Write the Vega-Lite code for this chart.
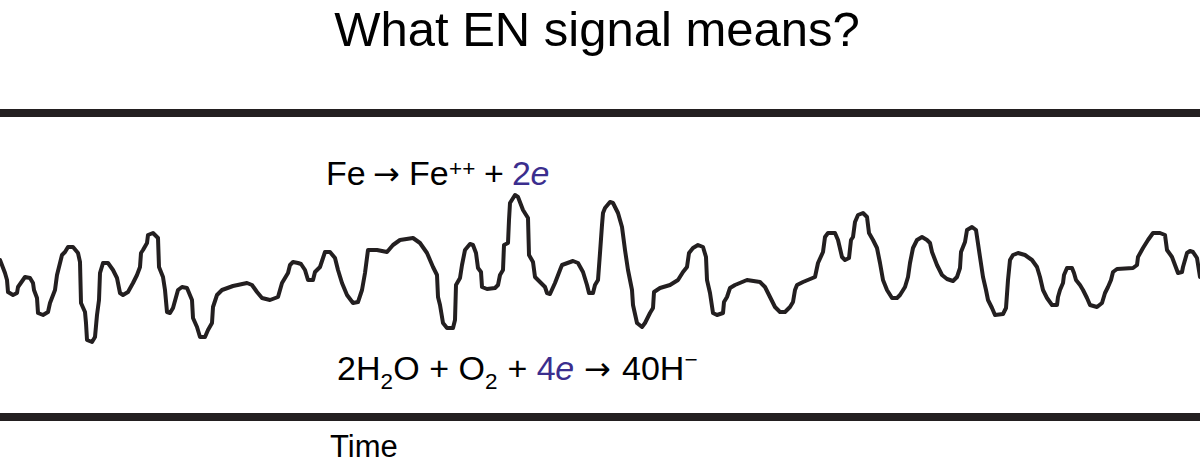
{
  "$schema": "https://vega.github.io/schema/vega-lite/v6.json",
  "width": 1200,
  "height": 467,
  "padding": 0,
  "autosize": {"type": "none"},
  "background": "white",
  "config": {"view": {"stroke": null}},
  "datasets": {
    "signal": [
      {"x":0,"y":260},{"x":5,"y":273},{"x":7,"y":280},{"x":8,"y":292},{"x":13,"y":295},{"x":17,"y":293},{"x":18,"y":287},{"x":25,"y":277},{"x":30,"y":278},{"x":33,"y":283},{"x":34,"y":290},{"x":37,"y":298},{"x":38,"y":313},{"x":43,"y":315},{"x":48,"y":312},{"x":50,"y":303},{"x":55,"y":290},{"x":57,"y":275},{"x":62,"y":255},{"x":65,"y":252},{"x":68,"y":247},{"x":73,"y":247},{"x":78,"y":253},{"x":80,"y":262},{"x":81,"y":303},{"x":85,"y":312},{"x":86,"y":323},{"x":87,"y":340},{"x":92,"y":342},{"x":95,"y":337},{"x":97,"y":315},{"x":99,"y":300},{"x":100,"y":273},{"x":103,"y":263},{"x":108,"y":263},{"x":113,"y":270},{"x":117,"y":278},{"x":120,"y":293},{"x":123,"y":295},{"x":128,"y":292},{"x":133,"y":283},{"x":137,"y":275},{"x":140,"y":267},{"x":141,"y":253},{"x":143,"y":250},{"x":147,"y":243},{"x":148,"y":235},{"x":153,"y":233},{"x":158,"y":238},{"x":159,"y":267},{"x":163,"y":277},{"x":165,"y":290},{"x":167,"y":312},{"x":170,"y":313},{"x":173,"y":308},{"x":178,"y":290},{"x":182,"y":287},{"x":187,"y":288},{"x":192,"y":300},{"x":193,"y":318},{"x":197,"y":327},{"x":200,"y":337},{"x":205,"y":337},{"x":208,"y":330},{"x":212,"y":323},{"x":213,"y":307},{"x":217,"y":295},{"x":222,"y":290},{"x":233,"y":286},{"x":247,"y":283},{"x":252,"y":285},{"x":257,"y":292},{"x":262,"y":298},{"x":270,"y":300},{"x":278,"y":297},{"x":282,"y":283},{"x":285,"y":278},{"x":288,"y":273},{"x":290,"y":265},{"x":293,"y":262},{"x":298,"y":263},{"x":301,"y":264},{"x":305,"y":270},{"x":308,"y":280},{"x":313,"y":280},{"x":315,"y":272},{"x":320,"y":267},{"x":323,"y":258},{"x":325,"y":252},{"x":330,"y":252},{"x":335,"y":258},{"x":338,"y":270},{"x":342,"y":283},{"x":347,"y":295},{"x":353,"y":303},{"x":358,"y":302},{"x":362,"y":290},{"x":365,"y":273},{"x":368,"y":250},{"x":377,"y":250},{"x":387,"y":252},{"x":393,"y":245},{"x":400,"y":240},{"x":413,"y":238},{"x":420,"y":243},{"x":427,"y":253},{"x":433,"y":267},{"x":437,"y":275},{"x":438,"y":297},{"x":440,"y":305},{"x":443,"y":323},{"x":447,"y":328},{"x":453,"y":328},{"x":455,"y":320},{"x":456,"y":285},{"x":460,"y":278},{"x":462,"y":265},{"x":465,"y":250},{"x":470,"y":244},{"x":473,"y":245},{"x":476,"y":253},{"x":478,"y":268},{"x":481,"y":272},{"x":482,"y":287},{"x":487,"y":289},{"x":495,"y":288},{"x":498,"y":285},{"x":500,"y":275},{"x":503,"y":270},{"x":504,"y":245},{"x":508,"y":243},{"x":509,"y":220},{"x":510,"y":203},{"x":515,"y":195},{"x":518,"y":197},{"x":523,"y":210},{"x":528,"y":218},{"x":529,"y":255},{"x":533,"y":262},{"x":535,"y":277},{"x":540,"y":282},{"x":545,"y":287},{"x":547,"y":293},{"x":550,"y":294},{"x":555,"y":283},{"x":560,"y":270},{"x":562,"y":265},{"x":573,"y":261},{"x":578,"y":263},{"x":583,"y":272},{"x":587,"y":285},{"x":589,"y":293},{"x":593,"y":293},{"x":595,"y":285},{"x":598,"y":280},{"x":600,"y":253},{"x":602,"y":225},{"x":603,"y":213},{"x":605,"y":208},{"x":610,"y":202},{"x":613,"y":203},{"x":618,"y":213},{"x":622,"y":227},{"x":625,"y":250},{"x":628,"y":270},{"x":632,"y":290},{"x":633,"y":305},{"x":637,"y":323},{"x":642,"y":327},{"x":645,"y":323},{"x":650,"y":313},{"x":653,"y":308},{"x":654,"y":292},{"x":660,"y":288},{"x":670,"y":285},{"x":678,"y":280},{"x":683,"y":272},{"x":687,"y":267},{"x":689,"y":253},{"x":693,"y":248},{"x":698,"y":245},{"x":703,"y":247},{"x":706,"y":257},{"x":707,"y":280},{"x":710,"y":293},{"x":713,"y":313},{"x":717,"y":315},{"x":723,"y":313},{"x":724,"y":302},{"x":727,"y":297},{"x":730,"y":288},{"x":735,"y":285},{"x":747,"y":280},{"x":760,"y":282},{"x":765,"y":287},{"x":770,"y":297},{"x":775,"y":307},{"x":780,"y":312},{"x":785,"y":312},{"x":790,"y":307},{"x":793,"y":302},{"x":795,"y":290},{"x":797,"y":285},{"x":803,"y":282},{"x":815,"y":277},{"x":818,"y":263},{"x":823,"y":252},{"x":825,"y":237},{"x":828,"y":233},{"x":835,"y":233},{"x":838,"y":240},{"x":842,"y":257},{"x":845,"y":260},{"x":849,"y":258},{"x":851,"y":240},{"x":853,"y":237},{"x":855,"y":222},{"x":858,"y":215},{"x":863,"y":213},{"x":867,"y":217},{"x":869,"y":233},{"x":873,"y":240},{"x":877,"y":248},{"x":880,"y":263},{"x":883,"y":280},{"x":887,"y":290},{"x":892,"y":298},{"x":897,"y":298},{"x":900,"y":295},{"x":905,"y":287},{"x":908,"y":277},{"x":910,"y":263},{"x":913,"y":248},{"x":917,"y":240},{"x":922,"y":237},{"x":927,"y":240},{"x":930,"y":243},{"x":932,"y":252},{"x":937,"y":265},{"x":942,"y":275},{"x":947,"y":279},{"x":953,"y":281},{"x":957,"y":277},{"x":960,"y":268},{"x":961,"y":252},{"x":963,"y":247},{"x":965,"y":242},{"x":967,"y":230},{"x":972,"y":227},{"x":976,"y":230},{"x":980,"y":257},{"x":983,"y":277},{"x":986,"y":290},{"x":988,"y":300},{"x":992,"y":308},{"x":995,"y":315},{"x":1003,"y":314},{"x":1006,"y":308},{"x":1008,"y":280},{"x":1010,"y":260},{"x":1013,"y":255},{"x":1018,"y":253},{"x":1025,"y":255},{"x":1032,"y":260},{"x":1037,"y":267},{"x":1040,"y":277},{"x":1043,"y":290},{"x":1047,"y":298},{"x":1052,"y":305},{"x":1057,"y":305},{"x":1058,"y":297},{"x":1060,"y":290},{"x":1063,"y":283},{"x":1064,"y":275},{"x":1067,"y":268},{"x":1072,"y":268},{"x":1074,"y":273},{"x":1076,"y":280},{"x":1080,"y":285},{"x":1083,"y":290},{"x":1087,"y":298},{"x":1090,"y":305},{"x":1097,"y":307},{"x":1102,"y":303},{"x":1105,"y":293},{"x":1108,"y":287},{"x":1111,"y":280},{"x":1113,"y":272},{"x":1117,"y":269},{"x":1133,"y":268},{"x":1137,"y":265},{"x":1138,"y":257},{"x":1143,"y":248},{"x":1148,"y":240},{"x":1153,"y":233},{"x":1160,"y":233},{"x":1165,"y":235},{"x":1167,"y":250},{"x":1172,"y":257},{"x":1175,"y":265},{"x":1178,"y":273},{"x":1182,"y":272},{"x":1183,"y":267},{"x":1187,"y":253},{"x":1190,"y":251},{"x":1193,"y":252},{"x":1197,"y":258},{"x":1200,"y":277}
    ],
    "bounds": [{"y": 113}, {"y": 417}],
    "title": [{"x": 597, "y": 46, "t": "What EN signal means?"}],
    "time": [{"x": 330, "y": 457, "t": "Time"}],
    "main": [
      {"x": 326, "y": 185, "t": "Fe"},
      {"x": 409, "y": 185, "t": "Fe"},
      {"x": 484, "y": 185, "t": "+"},
      {"x": 337, "y": 380, "t": "2H"},
      {"x": 393.3, "y": 380, "t": "O"},
      {"x": 429.3, "y": 380, "t": "+"},
      {"x": 458.6, "y": 380, "t": "O"},
      {"x": 507.4, "y": 380, "t": "+"},
      {"x": 622, "y": 380, "t": "40H"}
    ],
    "arrows": [
      {"x": 373, "y": 185, "t": "→"},
      {"x": 584, "y": 380, "t": "→"}
    ],
    "small": [
      {"x": 449, "y": 176, "t": "++"},
      {"x": 380.5, "y": 389, "t": "2"},
      {"x": 485.1, "y": 389, "t": "2"},
      {"x": 684.4, "y": 367, "t": "−"}
    ],
    "blue": [
      {"x": 512, "y": 185, "t": "2"},
      {"x": 536.7, "y": 380, "t": "4"}
    ],
    "blueItalic": [
      {"x": 530.5, "y": 185, "t": "e"},
      {"x": 555.2, "y": 380, "t": "e"}
    ]
  },
  "layer": [
    {
      "data": {"name": "bounds"},
      "mark": {"type": "rule", "strokeWidth": 8, "color": "#231f20"},
      "encoding": {
        "y": {"field": "y", "type": "quantitative", "scale": {"domain": [0, 467], "reverse": true, "nice": false, "zero": false}, "axis": null}
      }
    },
    {
      "data": {"name": "signal"},
      "mark": {"type": "line", "strokeWidth": 4, "color": "#231f20", "strokeJoin": "round", "strokeCap": "round"},
      "encoding": {
        "x": {"field": "x", "type": "quantitative", "scale": {"domain": [0, 1200], "nice": false, "zero": false}, "axis": null},
        "y": {"field": "y", "type": "quantitative", "axis": null}
      }
    },
    {
      "data": {"name": "title"},
      "mark": {"type": "text", "font": "Liberation Sans", "fontSize": 49, "align": "center", "baseline": "alphabetic", "color": "#000000"},
      "encoding": {
        "x": {"field": "x", "type": "quantitative"},
        "y": {"field": "y", "type": "quantitative"},
        "text": {"field": "t"}
      }
    },
    {
      "data": {"name": "time"},
      "mark": {"type": "text", "font": "Liberation Sans", "fontSize": 31, "align": "left", "baseline": "alphabetic", "color": "#000000"},
      "encoding": {
        "x": {"field": "x", "type": "quantitative"},
        "y": {"field": "y", "type": "quantitative"},
        "text": {"field": "t"}
      }
    },
    {
      "data": {"name": "main"},
      "mark": {"type": "text", "font": "Liberation Sans", "fontSize": 34, "align": "left", "baseline": "alphabetic", "color": "#000000"},
      "encoding": {
        "x": {"field": "x", "type": "quantitative"},
        "y": {"field": "y", "type": "quantitative"},
        "text": {"field": "t"}
      }
    },
    {
      "data": {"name": "arrows"},
      "mark": {"type": "text", "font": "DejaVu Sans", "fontSize": 32, "align": "left", "baseline": "alphabetic", "color": "#000000"},
      "encoding": {
        "x": {"field": "x", "type": "quantitative"},
        "y": {"field": "y", "type": "quantitative"},
        "text": {"field": "t"}
      }
    },
    {
      "data": {"name": "small"},
      "mark": {"type": "text", "font": "Liberation Sans", "fontSize": 22.5, "align": "left", "baseline": "alphabetic", "color": "#000000"},
      "encoding": {
        "x": {"field": "x", "type": "quantitative"},
        "y": {"field": "y", "type": "quantitative"},
        "text": {"field": "t"}
      }
    },
    {
      "data": {"name": "blue"},
      "mark": {"type": "text", "font": "Liberation Sans", "fontSize": 34, "align": "left", "baseline": "alphabetic", "color": "#3b2e8e"},
      "encoding": {
        "x": {"field": "x", "type": "quantitative"},
        "y": {"field": "y", "type": "quantitative"},
        "text": {"field": "t"}
      }
    },
    {
      "data": {"name": "blueItalic"},
      "mark": {"type": "text", "font": "Liberation Sans", "fontSize": 34, "fontStyle": "italic", "align": "left", "baseline": "alphabetic", "color": "#3b2e8e"},
      "encoding": {
        "x": {"field": "x", "type": "quantitative"},
        "y": {"field": "y", "type": "quantitative"},
        "text": {"field": "t"}
      }
    }
  ]
}
